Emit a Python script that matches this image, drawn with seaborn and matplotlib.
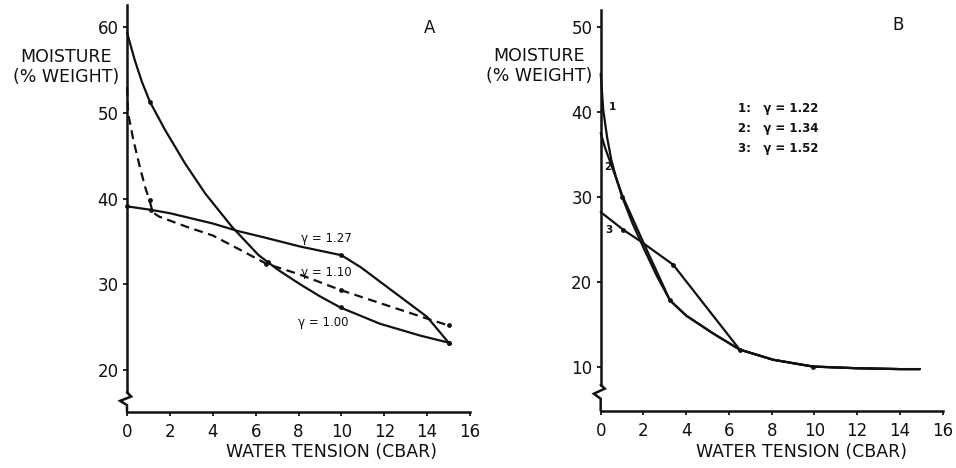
import matplotlib
matplotlib.use("Agg")
import matplotlib.pyplot as plt
import matplotlib.transforms as mtransforms
import seaborn as sns

# ---------------- Panel A data (water tension in cbar, moisture in % weight)
a_x_100 = [0, 0.37, 0.7, 1.07, 1.78, 2.71, 3.65, 4.9, 6.14, 7.1, 8.08, 9, 9.95, 11.8, 13.7, 15]
a_y_100 = [59.4, 56.1, 53.6, 51.3, 48.0, 44.1, 40.6, 36.7, 33.4, 31.6, 30.0, 28.6, 27.3, 25.4, 24.0, 23.2]
a_mx_100 = [1.07, 6.6, 10, 15]
a_my_100 = [51.3, 32.6, 27.3, 23.2]

a_x_110 = [0, 0.05, 0.3, 0.6, 0.84, 1.05, 1.2, 1.5, 2.8, 4, 5.3, 6.5, 8, 10, 12.3, 14, 15]
a_y_110 = [53.0, 50.0, 46.8, 43.7, 41.4, 39.8, 38.4, 37.9, 36.7, 35.7, 34.0, 32.4, 31.2, 29.3, 27.4, 26.0, 25.2]
a_mx_110 = [1.05, 6.5, 10, 15]
a_my_110 = [39.8, 32.4, 29.3, 25.2]

a_x_127 = [0, 1.1, 2, 4, 5.2, 6.2, 8.1, 10, 10.9, 12.45, 14.0, 15]
a_y_127 = [39.1, 38.7, 38.3, 37.1, 36.2, 35.6, 34.4, 33.4, 32.0, 29.1, 26.2, 23.2]
a_mx_127 = [0, 1.1, 10, 15]
a_my_127 = [39.1, 38.7, 33.4, 23.2]

a_labels = ["γ = 1.27", "γ = 1.10", "γ = 1.00"]
a_label_x = [8.1, 8.1, 8.0]
a_label_y = [35.3, 31.4, 25.5]

# ---------------- Panel B data
b_x_1 = [0, 0.12, 0.3, 0.5, 0.75, 1.0, 1.5, 2.0, 2.6, 3.24, 4, 5.26, 6.5, 8.07, 9.93, 12, 14, 14.93]
b_y_1 = [44.5, 40.2, 37.0, 34.3, 32.0, 30.0, 26.8, 24.0, 20.8, 17.8, 16.0, 13.9, 12.0, 10.8, 10.0, 9.8, 9.7, 9.7]
b_x_2 = [0, 0.2, 0.43, 0.75, 1.0, 1.5, 2.0, 2.6, 3.24, 4, 5.26, 6.5, 8.07, 9.93, 12, 14, 14.93]
b_y_2 = [37.5, 35.8, 34.2, 32.0, 30.2, 27.4, 24.6, 21.3, 17.8, 16.0, 13.9, 12.0, 10.8, 10.0, 9.8, 9.7, 9.7]
b_x_3 = [0, 1.06, 1.84, 3.39, 6.5, 8.07, 9.93, 12, 14, 14.93]
b_y_3 = [28.2, 26.1, 24.8, 22.0, 12.0, 10.8, 10.0, 9.8, 9.7, 9.7]
b_mx = [0.98, 3.24, 1.06, 3.39, 6.5, 9.93]
b_my = [30.0, 17.8, 26.1, 22.0, 12.0, 10.0]

b_curve_ids = ["1", "2", "3"]
b_curve_id_x = [0.36, 0.15, 0.2]
b_curve_id_y = [40.6, 33.5, 26.1]
b_legend = ["1:   γ = 1.22", "2:   γ = 1.34", "3:   γ = 1.52"]
b_legend_y = [40.4, 38.1, 35.7]

x_ticks = [0, 2, 4, 6, 8, 10, 12, 14, 16]
a_y_ticks = [20, 30, 40, 50, 60]
b_y_ticks = [10, 20, 30, 40, 50]

sns.set_theme(style="ticks")
plt.rcParams["font.family"] = ["DejaVu Sans"]

fig = plt.figure(figsize=(9.56, 4.68), dpi=100)
fig.patch.set_facecolor("white")
axA = fig.add_axes([127 / 956, 1 - 412 / 468, 343 / 956, 407 / 468])
axB = fig.add_axes([600.7 / 956, 1 - 410.7 / 468, 342 / 956, 400.7 / 468])

K = "#111111"
LW = 1.6


def line(ax, x, y, dashed=False):
    sns.lineplot(x=x, y=y, ax=ax, color=K, lw=LW, sort=False,
                 linestyle="--" if dashed else "-", clip_on=False)
    ax.lines[-1].set_solid_joinstyle("round")
    if dashed:
        ax.lines[-1].set_dashes((4, 2.5))


def dots(ax, x, y):
    sns.scatterplot(x=x, y=y, ax=ax, color=K, s=12, linewidth=0, clip_on=False, zorder=5)


# ---- Panel A
line(axA, a_x_100, a_y_100)
line(axA, a_x_110, a_y_110, dashed=True)
line(axA, a_x_127, a_y_127)
dots(axA, a_mx_100, a_my_100)
dots(axA, a_mx_110, a_my_110)
dots(axA, a_mx_127, a_my_127)
for t, x, y in zip(a_labels, a_label_x, a_label_y):
    axA.text(x, y, t, fontsize=8.5, ha="left", va="center", color=K)
axA.text(14.1, 59.9, "A", fontsize=12, ha="center", va="center", color=K)
axA.set_xlim(0, 16)
axA.set_ylim(15.1, 62.6)
axA.set_yticks(a_y_ticks)

# ---- Panel B
line(axB, b_x_1, b_y_1)
line(axB, b_x_2, b_y_2)
line(axB, b_x_3, b_y_3)
dots(axB, b_mx, b_my)
for t, x, y in zip(b_curve_ids, b_curve_id_x, b_curve_id_y):
    axB.text(x, y, t, fontsize=7.5, ha="left", va="center", color=K, fontweight="bold")
for t, y in zip(b_legend, b_legend_y):
    axB.text(6.4, y, t, fontsize=8.5, ha="left", va="center", color=K, fontweight="bold")
axB.text(13.9, 50.2, "B", fontsize=12, ha="center", va="center", color=K)
axB.set_xlim(0, 16)
axB.set_ylim(4.8, 52)
axB.set_yticks(b_y_ticks)

# ---- common styling
breaks = {axA: (17.4, 16.9, 16.4, 15.9, 15.1), axB: (7.85, 7.4, 6.8, 6.2, 4.8)}
for ax in (axA, axB):
    ax.set_xticks(x_ticks)
    ax.set_xlabel("")
    ax.set_ylabel("")
    sns.despine(ax=ax)
    for s in ("left", "bottom"):
        ax.spines[s].set_linewidth(1.8)
        ax.spines[s].set_color(K)
    ax.tick_params(axis="both", direction="out", length=3, width=1.3, colors=K,
                   labelsize=12, pad=3)
    ax.tick_params(axis="x", pad=5)
    ax.set_facecolor("white")
    b0, b1, b2, b3, b4 = breaks[ax]
    ax.spines["left"].set_bounds(b0, ax.get_ylim()[1])
    tr = mtransforms.blended_transform_factory(ax.transAxes, ax.transData)
    ax.plot([0, 0.012, -0.02, 0.0, 0.0], [b0, b1, b2, b3, b4], color=K, lw=1.8,
            transform=tr, clip_on=False, solid_joinstyle="miter")

trA = mtransforms.blended_transform_factory(axA.transAxes, axA.transData)
axA.text(-0.178, 55.4, "MOISTURE\n(% WEIGHT)", transform=trA, fontsize=12.5,
         ha="center", va="center", linespacing=1.15, color=K)
axA.text(0.595, -0.098, "WATER TENSION (CBAR)", transform=axA.transAxes,
         fontsize=12.5, ha="center", va="center", color=K)

trB = mtransforms.blended_transform_factory(axB.transAxes, axB.transData)
axB.text(-0.179, 45.4, "MOISTURE\n(% WEIGHT)", transform=trB, fontsize=12.5,
         ha="center", va="center", linespacing=1.15, color=K)
axB.text(0.587, -0.102, "WATER TENSION (CBAR)", transform=axB.transAxes,
         fontsize=12.5, ha="center", va="center", color=K)

fig.savefig("out.png", dpi=100, facecolor="white")
